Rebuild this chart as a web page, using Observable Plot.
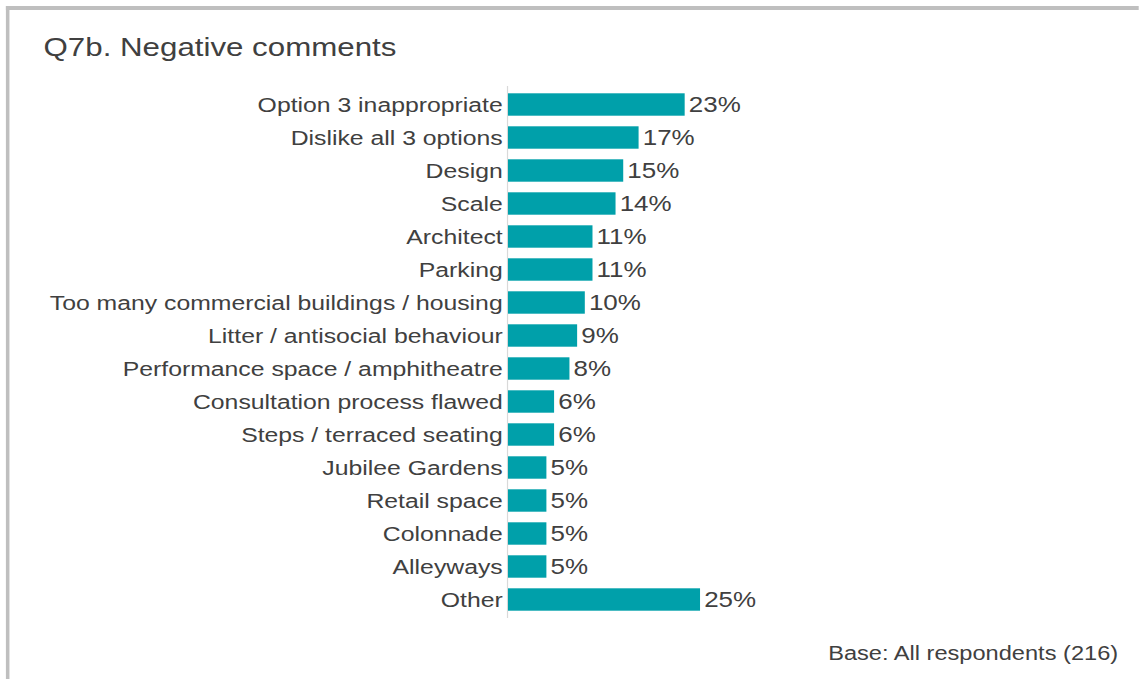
<!DOCTYPE html>
<html><head><meta charset="utf-8">
<script src="https://cdn.jsdelivr.net/npm/d3@7"></script>
<script src="https://cdn.jsdelivr.net/npm/@observablehq/plot@0.6"></script>
<style>
html,body{margin:0;padding:0;background:#fff;overflow:hidden;width:1139px;height:679px;}
#wrap{position:absolute;left:0;top:0;width:965.25px;height:679px;transform:scaleX(1.18);transform-origin:0 0;font-family:"Liberation Sans",Arial,sans-serif;color:#404040;}
#frame{position:absolute;left:5.1px;top:6px;right:0;bottom:-10px;border-left:3.4px solid #BFBFBF;border-top:4px solid #BFBFBF;}
#chart{position:absolute;left:0;top:0;}
#title{position:absolute;left:36.9px;top:34.3px;font-size:26.5px;line-height:26.5px;white-space:nowrap;}
#caption{position:absolute;right:17.7px;top:643px;font-size:20px;line-height:20px;white-space:nowrap;}
</style>
</head><body>
<div id="wrap">
  <div id="frame"></div>
  <div id="chart"></div>
  <div id="title">Q7b. Negative comments</div>
  <div id="caption">Base: All respondents (216)</div>
</div>
<script>
const categories = [
  "Option 3 inappropriate",
  "Dislike all 3 options",
  "Design",
  "Scale",
  "Architect",
  "Parking",
  "Too many commercial buildings / housing",
  "Litter / antisocial behaviour",
  "Performance space / amphitheatre",
  "Consultation process flawed",
  "Steps / terraced seating",
  "Jubilee Gardens",
  "Retail space",
  "Colonnade",
  "Alleyways",
  "Other"
];
const values = [23, 17, 15, 14, 11, 11, 10, 9, 8, 6, 6, 5, 5, 5, 5, 25];
const data = categories.map((c, i) => ({category: c, value: values[i]}));

const chart = Plot.plot({
  width: 965.25,
  height: 679,
  marginLeft: 430.5,
  marginRight: 372,
  marginTop: 86,
  marginBottom: 61,
  style: {fontFamily: "'Liberation Sans', Arial, sans-serif", color: "#404040", background: "transparent"},
  x: {domain: [0, 25], axis: null},
  y: {domain: categories, padding: 0, label: null},
  marks: [
    Plot.ruleX([0], {stroke: "#D9D9D9", strokeWidth: 1, dx: -0.9}),
    Plot.barX(data, {x: "value", y: "category", fill: "#00A0AA", insetTop: 5.3, insetBottom: 5.3}),
    Plot.text(data, {x: "value", y: "category", text: d => d.value + "%", textAnchor: "start", dx: 3, fontSize: 22, fill: "#404040"}),
    Plot.axisY({tickSize: 0, tickPadding: 5, fontSize: 21, label: null, fill: "#404040"})
  ]
});
document.getElementById("chart").appendChild(chart);
</script>
</body></html>
